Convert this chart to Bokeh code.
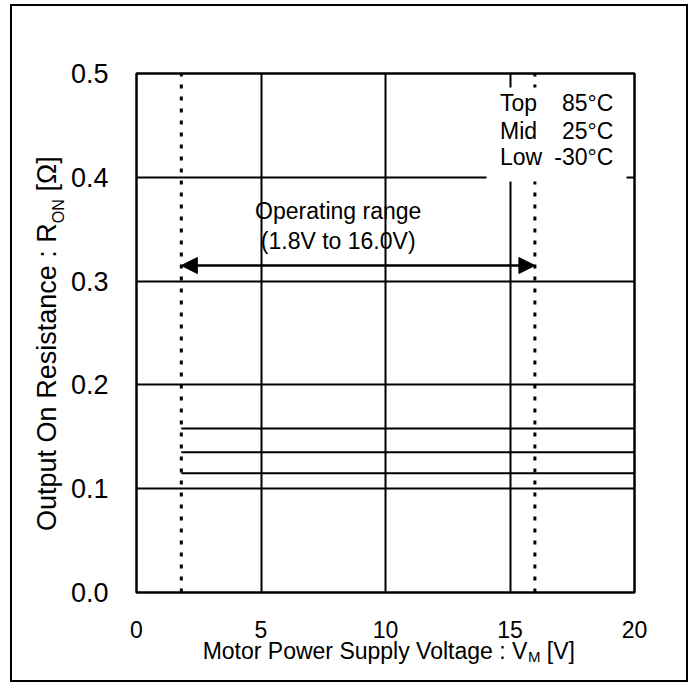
import math
from bokeh.plotting import figure
from bokeh.models import (Label, BoxAnnotation, Arrow, NormalHead, FixedTicker, LinearAxis)
from bokeh.embed import file_html
from bokeh.resources import INLINE

# ---------------- data ----------------
supply_voltage = [1.8, 20.0]          # V_M [V]
ron_top_85c = [0.158, 0.158]          # R_ON [ohm] at 85 degC
ron_mid_25c = [0.135, 0.135]          # R_ON [ohm] at 25 degC
ron_low_m30c = [0.115, 0.115]         # R_ON [ohm] at -30 degC
operating_range = [1.8, 16.0]         # V
x_ticks = [0, 5, 10, 15, 20]
y_ticks = [0.0, 0.1, 0.2, 0.3, 0.4, 0.5]
x_tick_labels = ["0", "5", "10", "15", "20"]
y_tick_labels = ["0.0", "0.1", "0.2", "0.3", "0.4", "0.5"]
legend_names = ["Top", "Mid", "Low"]
legend_temps = ["85°C", "25°C", "-30°C"]

FONT = "Liberation Sans"

# Arial / Liberation Sans advance widths (per em) for laying out the axis-label pieces
ADV = {" ": .278, ":": .278, "[": .278, "]": .278, "Ω": .768, "M": .833, "o": .556,
       "t": .278, "r": .333, "P": .667, "w": .722, "e": .556, "S": .667, "u": .556,
       "p": .556, "l": .222, "y": .5, "V": .667, "a": .556, "g": .556, "O": .778,
       "n": .556, "R": .722, "s": .5, "i": .222, "c": .5, "N": .722}


def text_w(s, size):
    return sum(ADV.get(ch, .556) for ch in s) * size


W, H = 678, 678
ML, MR, MT, MB = 124, 56, 67, 92
p = figure(width=W, height=H, x_range=(0, 20), y_range=(0, 0.5),
           output_backend="svg", toolbar_location=None,
           min_border_left=ML, min_border_right=MR,
           min_border_top=MT, min_border_bottom=MB,
           background_fill_color="white", border_fill_color="white",
           styles={"border": "2px solid black", "margin-left": "10px", "margin-top": "4px"})
frame_w = W - ML - MR
frame_h = H - MT - MB
px_x = frame_w / 20.0      # pixels per volt
px_y = frame_h / 0.5       # pixels per ohm

p.outline_line_color = "black"
p.outline_line_width = 2.5
p.outline_line_alpha = 1

# grid
p.xgrid.ticker = FixedTicker(ticks=x_ticks[1:-1])
p.ygrid.ticker = FixedTicker(ticks=y_ticks[1:-1])
for g in (p.xgrid, p.ygrid):
    g.grid_line_color = "black"
    g.grid_line_width = 2
    g.grid_line_alpha = 1


def plain(ax, size, standoff):
    ax.axis_line_color = None
    ax.major_tick_line_color = None
    ax.minor_tick_line_color = None
    ax.major_tick_out = 0
    ax.major_tick_in = 0
    ax.minor_tick_out = 0
    ax.minor_tick_in = 0
    ax.major_label_text_font = FONT
    ax.major_label_text_color = "black"
    ax.major_label_text_font_size = f"{size}px"
    ax.major_label_standoff = standoff


# axes with tick numbers
p.xaxis.ticker = FixedTicker(ticks=x_ticks)
p.xaxis.major_label_overrides = {t: l for t, l in zip(x_ticks, x_tick_labels)}
p.yaxis.ticker = FixedTicker(ticks=y_ticks)
p.yaxis.major_label_overrides = {t: l for t, l in zip(y_ticks, y_tick_labels)}
plain(p.xaxis[0], 23, 28)
plain(p.yaxis[0], 27, 28)

# ---- x axis title "Motor Power Supply Voltage : V_M [V]" (pieces laid out as axis labels)
xl_main, xl_sub, xl_tail = "Motor Power Supply Voltage : V", "M", "[V]"
xs_main, xs_sub = 23, 15
w_m, w_s, w_sp, w_t = (text_w(xl_main, xs_main), text_w(xl_sub, xs_sub),
                       text_w(" ", xs_main), text_w(xl_tail, xs_main))
x0 = frame_w / 2 + 3 - (w_m + w_s + w_sp + w_t) / 2
xc_main = round((x0 + w_m / 2) / px_x, 4)
xc_sub = round((x0 + w_m + w_s / 2) / px_x, 4)
xc_tail = round((x0 + w_m + w_s + w_sp + w_t / 2) / px_x, 4)

ax_xsub = LinearAxis(ticker=FixedTicker(ticks=[xc_sub]), major_label_overrides={xc_sub: xl_sub})
plain(ax_xsub, xs_sub, 7)
p.add_layout(ax_xsub, "below")
ax_xmain = LinearAxis(ticker=FixedTicker(ticks=[xc_main, xc_tail]),
                      major_label_overrides={xc_main: xl_main, xc_tail: xl_tail})
plain(ax_xmain, xs_main, -30)
p.add_layout(ax_xmain, "below")

# ---- y axis title "Output On Resistance : R_ON [Ω]"
yl_main, yl_sub, yl_tail = "Output On Resistance : R", "ON", "[Ω]"
ys_main, ys_sub = 27, 16
h_m, h_s, h_sp, h_t = (text_w(yl_main, ys_main), text_w(yl_sub, ys_sub),
                       text_w(" ", ys_main), text_w(yl_tail, ys_main))
y0 = 249 - (h_m + h_s + h_sp + h_t) / 2
yc_main = round((y0 + h_m / 2) / px_y, 5)
yc_sub = round((y0 + h_m + h_s / 2) / px_y, 5)
yc_tail = round((y0 + h_m + h_s + h_sp + h_t / 2) / px_y, 5)

ax_ysub = LinearAxis(ticker=FixedTicker(ticks=[yc_sub]), major_label_overrides={yc_sub: yl_sub})
plain(ax_ysub, ys_sub, 0)
ax_ysub.major_label_orientation = "parallel"
p.add_layout(ax_ysub, "left")
ax_ymain = LinearAxis(ticker=FixedTicker(ticks=[yc_main, yc_tail]),
                      major_label_overrides={yc_main: yl_main, yc_tail: yl_tail})
plain(ax_ymain, ys_main, -15)
ax_ymain.major_label_orientation = "parallel"
p.add_layout(ax_ymain, "left")

# operating range dotted limits
p.segment(x0=operating_range, y0=[y_ticks[0]] * 2, x1=operating_range, y1=[y_ticks[-1]] * 2,
          line_color="black", line_width=3, line_dash="4 8")

# data lines
for series in (ron_top_85c, ron_mid_25c, ron_low_m30c):
    p.line(supply_voltage, series, line_color="black", line_width=2)

# white box behind the legend text
p.add_layout(BoxAnnotation(left=14.06, right=19.68, bottom=0.396, top=0.4865,
                           fill_color="white", fill_alpha=1, line_color=None))

# operating range arrow
p.add_layout(Arrow(x_start=operating_range[0], x_end=operating_range[1],
                   y_start=0.315, y_end=0.315, line_color="black", line_width=2.5,
                   start=NormalHead(size=16, fill_color="black", line_color="black"),
                   end=NormalHead(size=16, fill_color="black", line_color="black")))

for txt, yv in (("Operating range", 0.368), ("(1.8V to 16.0V)", 0.339)):
    p.add_layout(Label(x=8.1, y=yv, text=txt, text_align="center", text_baseline="middle",
                       text_font=FONT, text_font_size="23px", text_color="black"))

# legend text
for name, temp, yv in zip(legend_names, legend_temps, (0.472, 0.445, 0.420)):
    p.add_layout(Label(x=14.6, y=yv, text=name, text_align="left", text_baseline="middle",
                       text_font=FONT, text_font_size="23px", text_color="black"))
    p.add_layout(Label(x=19.15, y=yv, text=temp, text_align="right", text_baseline="middle",
                       text_font=FONT, text_font_size="23px", text_color="black"))

open("out.html", "w").write(file_html(p, INLINE))
